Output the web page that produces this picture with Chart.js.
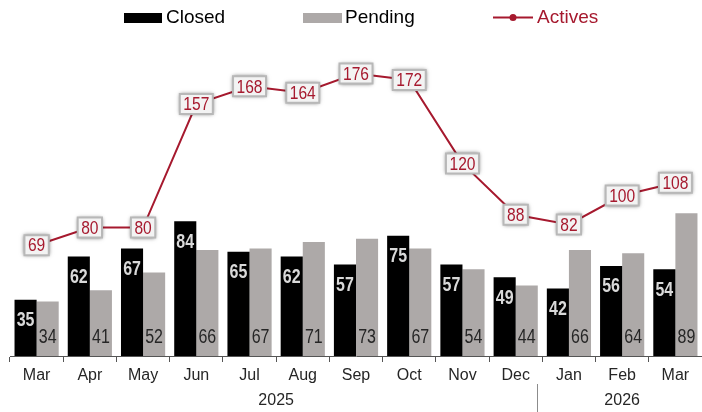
<!DOCTYPE html>
<html><head><meta charset="utf-8">
<script src="https://cdn.jsdelivr.net/npm/chart.js@4.4.1/dist/chart.umd.min.js"></script>
<style>html,body{margin:0;padding:0;background:#fff;overflow:hidden}</style>
</head><body>
<canvas id="c" width="702" height="412"></canvas>
<script>
const categories = ['Mar','Apr','May','Jun','Jul','Aug','Sep','Oct','Nov','Dec','Jan','Feb','Mar'];
const closed  = [35,62,67,84,65,62,57,75,57,49,42,56,54];
const pending = [34,41,52,66,67,71,73,67,54,44,66,64,89];
const actives = [69,80,80,157,168,164,176,172,120,88,82,100,108];
const yearGroups = [{label:'2025', from:0, to:9}, {label:'2026', from:10, to:12}];

const RED = '#A6192E';
const GRAY = '#ada9a8';
const FONT = '"Liberation Sans", Arial, sans-serif';

function narrowText(ctx, text, x, y, size, weight, color) {
  ctx.save();
  ctx.font = weight + ' ' + size + 'px ' + FONT;
  ctx.fillStyle = color;
  ctx.textAlign = 'center';
  ctx.textBaseline = 'middle';
  ctx.translate(x, y);
  ctx.scale(0.82, 1);
  ctx.fillText(text, 0, 0);
  ctx.restore();
}

const labelPlugin = {
  id: 'labels',
  afterDatasetsDraw(chart) {
    const ctx = chart.ctx;
    const mc = chart.getDatasetMeta(0);
    mc.data.forEach((b, i) => {
      narrowText(ctx, String(closed[i]), b.x, b.y + 21, 19.5, 'bold', '#d9d9d9');
    });
    const mp = chart.getDatasetMeta(1);
    mp.data.forEach((b, i) => {
      narrowText(ctx, String(pending[i]), b.x, b.base - 18, 19.5, 'normal', '#262626');
    });
    const ml = chart.getDatasetMeta(2);
    ml.data.forEach((p, i) => {
      const t = String(actives[i]);
      ctx.save();
      ctx.font = 'normal 19px ' + FONT;
      const w = ctx.measureText(t).width * 0.82 + 7;
      const h = 20;
      ctx.shadowColor = 'rgba(0,0,0,0.6)';
      ctx.shadowBlur = 4;
      ctx.fillStyle = '#f3f3f3';
      ctx.strokeStyle = '#b8b8b8';
      ctx.lineWidth = 2;
      ctx.beginPath();
      ctx.rect(p.x - w/2, p.y - h/2, w, h);
      ctx.fill();
      ctx.shadowBlur = 0;
      ctx.stroke();
      ctx.restore();
      narrowText(ctx, t, p.x, p.y + 1, 19, 'normal', RED);
    });
  },
  afterDraw(chart) {
    const ctx = chart.ctx;
    const xs = chart.scales.x;
    ctx.save();
    ctx.font = '16px ' + FONT;
    ctx.fillStyle = '#262626';
    ctx.textAlign = 'center';
    ctx.textBaseline = 'middle';
    const half = (xs.getPixelForValue(1) - xs.getPixelForValue(0)) / 2;
    yearGroups.forEach(g => {
      const x0 = xs.getPixelForValue(g.from) - half;
      const x1 = xs.getPixelForValue(g.to) + half;
      ctx.fillText(g.label, (x0 + x1) / 2, 401);
    });
    const sx = xs.getPixelForValue(yearGroups[1].from) - half - 5;
    ctx.strokeStyle = '#8c8c8c';
    ctx.lineWidth = 1;
    ctx.beginPath();
    ctx.moveTo(Math.round(sx) + 0.5, 384);
    ctx.lineTo(Math.round(sx) + 0.5, 412);
    ctx.stroke();
    ctx.font = '19px ' + FONT;
    ctx.textAlign = 'left';
    ctx.textBaseline = 'middle';
    ctx.fillStyle = '#000';
    ctx.fillRect(124, 13, 38, 10);
    ctx.fillText('Closed', 166, 18);
    ctx.fillStyle = GRAY;
    ctx.fillRect(303, 13, 39, 10);
    ctx.fillStyle = '#000';
    ctx.fillText('Pending', 345, 18);
    ctx.strokeStyle = RED;
    ctx.lineWidth = 2;
    ctx.beginPath();
    ctx.moveTo(493, 17.5); ctx.lineTo(533, 17.5); ctx.stroke();
    ctx.fillStyle = RED;
    ctx.beginPath(); ctx.arc(513, 17.5, 3.5, 0, Math.PI * 2); ctx.fill();
    ctx.fillText('Actives', 537, 18);
    ctx.restore();
  }
};

new Chart(document.getElementById('c'), {
  data: {
    labels: categories,
    datasets: [
      { type: 'bar', label: 'Closed', data: closed, backgroundColor: '#000', order: 1,
        categoryPercentage: 0.83, barPercentage: 1.0 },
      { type: 'bar', label: 'Pending', data: pending, backgroundColor: GRAY, order: 1,
        categoryPercentage: 0.83, barPercentage: 1.0 },
      { type: 'line', label: 'Actives', data: actives, borderColor: RED, borderWidth: 2,
        pointRadius: 0, tension: 0, order: 0 }
    ]
  },
  options: {
    responsive: false,
    animation: false,
    layout: { padding: { top: 35, left: 10, right: 0, bottom: 0 } },
    plugins: { legend: { display: false }, tooltip: { enabled: false } },
    scales: {
      x: {
        offset: true,
        grid: { display: true, drawOnChartArea: false, drawTicks: true, tickLength: 6, color: '#555', offset: true },
        border: { display: true, color: '#555', width: 1 },
        ticks: { color: '#262626', font: { size: 16, family: FONT }, padding: 4, maxRotation: 0 },
        afterFit(s) { s.height = 56; }
      },
      y: { display: false, min: 0, max: 200 }
    }
  },
  plugins: [labelPlugin]
});
</script>
</body></html>
